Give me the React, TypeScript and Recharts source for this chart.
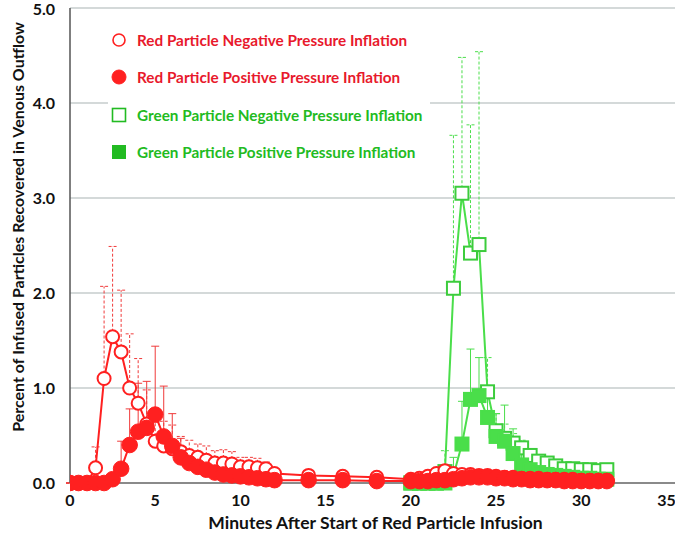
import React from "react";
import { LineChart, Line, XAxis, YAxis, CartesianGrid, ErrorBar } from "recharts";

const RED = "#ff2020";
const RED_ERR = "#f03a3a";
const RED_TEXT = "#e8192c";
const GREEN = "#4ade4a";
const GREEN_TEXT = "#22bb22";
const FONT = "Lato, 'Open Sans', sans-serif";

// minutes after start of red particle infusion
const redTimes = [
  0, 0.5, 1, 1.5, 2, 2.5, 3, 3.5, 4, 4.5, 5, 5.5, 6, 6.5, 7, 7.5, 8, 8.5, 9, 9.5, 10, 10.5, 11, 11.5, 12,
  14, 16, 18,
  20, 20.5, 21, 21.5, 22, 22.5, 23, 23.5, 24, 24.5, 25, 25.5, 26, 26.5, 27, 27.5, 28, 28.5, 29, 29.5, 30, 30.5, 31, 31.5,
];
const greenTimes = [
  20, 20.5, 21, 21.5, 22, 22.5, 23, 23.5, 24, 24.5, 25, 25.5, 26, 26.5, 27, 27.5, 28, 28.5, 29, 29.5, 30, 30.5, 31, 31.5,
];

const redNeg = [
  0, 0, 0, 0.16, 1.1, 1.54, 1.38, 1.0, 0.84, 0.62, 0.44, 0.39, 0.36, 0.33, 0.29, 0.27, 0.24, 0.21, 0.21, 0.2, 0.17, 0.17, 0.16, 0.15, 0.1,
  0.08, 0.07, 0.06,
  0.04, 0.05, 0.07, 0.1, 0.13, 0.1, 0.09, 0.09, 0.08, 0.08, 0.07, 0.06, 0.06, 0.05, 0.05, 0.05, 0.04, 0.04, 0.04, 0.04, 0.03, 0.03, 0.03, 0.03,
];
const redNegErr = [
  0, 0, 0, 0.22, 0.97, 0.95, 0.65, 0.57, 0.47, 0.36, 0.2, 0.26, 0.25, 0.16, 0.16, 0.14, 0.15, 0.13, 0.14, 0.13, 0.1, 0.1, 0.1, 0.07, 0.02,
  0, 0, 0,
  0, 0, 0, 0, 0, 0, 0, 0, 0, 0, 0, 0, 0, 0, 0, 0, 0, 0, 0, 0, 0, 0, 0, 0,
];
const redPos = [
  0, 0, 0, 0, 0, 0.04, 0.15, 0.4, 0.54, 0.58, 0.72, 0.49, 0.39, 0.27, 0.21, 0.17, 0.14, 0.11, 0.09, 0.08, 0.07, 0.06, 0.05, 0.04, 0.03,
  0.03, 0.03, 0.02,
  0.02, 0.02, 0.02, 0.03, 0.03, 0.04, 0.05, 0.06, 0.06, 0.06, 0.05, 0.05, 0.04, 0.04, 0.03, 0.03, 0.03, 0.03, 0.02, 0.02, 0.02, 0.02, 0.02, 0.02,
];
const redPosErr = [
  0, 0, 0, 0, 0, 0.02, 0.29, 0.38, 0.51, 0.49, 0.72, 0.53, 0.34, 0.2, 0.12, 0.08, 0.06, 0.05, 0.04, 0.03, 0.03, 0.02, 0.02, 0.02, 0.01,
  0, 0, 0,
  0, 0, 0, 0, 0, 0, 0, 0, 0, 0, 0, 0, 0, 0, 0, 0, 0, 0, 0, 0, 0, 0, 0, 0,
];

const greenNeg = [0, 0, 0, 0, 0.12, 2.05, 3.05, 2.42, 2.51, 0.96, 0.55, 0.47, 0.42, 0.37, 0.29, 0.23, 0.21, 0.18, 0.15, 0.15, 0.14, 0.14, 0.13, 0.14];
const greenNegErr = [0, 0, 0, 0, 0.22, 1.61, 1.43, 1.35, 2.03, 0.36, 0.18, 0.15, 0.1, 0.08, 0.07, 0.06, 0.04, 0.03, 0.02, 0.02, 0.01, 0.01, 0.01, 0.01];
const greenPos = [0, 0, 0, 0, 0, 0.08, 0.41, 0.88, 0.92, 0.69, 0.49, 0.44, 0.31, 0.19, 0.14, 0.11, 0.09, 0.08, 0.07, 0.06, 0.05, 0.05, 0.04, 0.04];
const greenPosErr = [0, 0, 0, 0, 0, 0.19, 0.45, 0.53, 0.4, 0.25, 0.24, 0.38, 0.26, 0.2, 0.15, 0.1, 0.05, 0.03, 0.02, 0.02, 0.01, 0.01, 0.01, 0.01];

const xTicks = [0, 5, 10, 15, 20, 25, 30, 35];
const yTicks = [0, 1, 2, 3, 4, 5];

const legendItems = [
  { label: "Red Particle Negative Pressure Inflation", shape: "circle", filled: false, color: RED, text: RED_TEXT },
  { label: "Red Particle Positive Pressure Inflation", shape: "circle", filled: true, color: RED, text: RED_TEXT },
  { label: "Green Particle Negative Pressure Inflation", shape: "square", filled: false, color: GREEN_TEXT, text: GREEN_TEXT },
  { label: "Green Particle Positive Pressure Inflation", shape: "square", filled: true, color: GREEN_TEXT, text: GREEN_TEXT },
];

const redData = redTimes.map((t, i) => ({
  t,
  neg: redNeg[i],
  negErr: [0, redNegErr[i]],
  pos: redPos[i],
  posErr: [0, redPosErr[i]],
}));

const greenData = greenTimes.map((t, i) => ({
  t,
  neg: greenNeg[i],
  negErr: [0, greenNegErr[i]],
  pos: greenPos[i],
  posErr: [0, greenPosErr[i]],
}));

const circleDot = (filled: boolean, name: string) => (p: any) => {
  if (p.cx == null || p.cy == null) return <g key={`${name}-${p.index}`} />;
  return (
    <circle
      key={`${name}-${p.index}`}
      cx={p.cx}
      cy={p.cy}
      r={filled ? 7.8 : 6.5}
      fill={filled ? RED : "#fff"}
      stroke={RED}
      strokeWidth={filled ? 1 : 2}
    />
  );
};

const squareDot = (filled: boolean, name: string) => (p: any) => {
  if (p.cx == null || p.cy == null) return <g key={`${name}-${p.index}`} />;
  const s = 13;
  return (
    <rect
      key={`${name}-${p.index}`}
      x={p.cx - s / 2}
      y={p.cy - s / 2}
      width={s}
      height={s}
      fill={filled ? GREEN : "#fff"}
      stroke={filled ? GREEN : "#3ccc3c"}
      strokeWidth={2}
    />
  );
};

const labelStyle = { fontFamily: FONT, fontWeight: 700, fontSize: 15, fill: "#111" };

function Legend() {
  return (
    <div
      style={{
        position: "absolute",
        left: 108,
        top: 22,
        width: 322,
        height: 130,
        background: "#fff",
        fontFamily: FONT,
        fontWeight: 700,
        fontSize: 15.3,
      }}
    >
      {legendItems.map((it, i) => (
        <div
          key={it.label}
          style={{ position: "absolute", left: 3, top: 9 + i * 37.3, display: "flex", alignItems: "center", color: it.text, whiteSpace: "nowrap" }}
        >
          <svg width={16} height={16} style={{ marginRight: 10 }}>
            {it.shape === "circle" ? (
              <circle cx={8} cy={8} r={it.filled ? 7 : 6} fill={it.filled ? it.color : "#fff"} stroke={it.color} strokeWidth={it.filled ? 1 : 1.6} />
            ) : (
              <rect x={1.5} y={1.5} width={13} height={13} fill={it.filled ? it.color : "#fff"} stroke={it.color} strokeWidth={it.filled ? 1 : 1.6} />
            )}
          </svg>
          <span>{it.label}</span>
        </div>
      ))}
    </div>
  );
}

export default function App() {
  return (
    <div style={{ position: "absolute", left: 0, top: 0, width: 675, height: 540, background: "#fff" }}>
      <LineChart width={675} height={540} margin={{ top: 8, right: 0, bottom: 0, left: 0 }}>
        <CartesianGrid vertical={false} stroke="#a9b3b3" strokeWidth={1.2} />
        <XAxis
          type="number"
          dataKey="t"
          domain={[0, 35.5]}
          ticks={xTicks}
          allowDataOverflow
          height={57}
          tickLine={false}
          tickMargin={6}
          axisLine={{ stroke: "#8a8a8a", strokeWidth: 2 }}
          tick={{ ...labelStyle, fontSize: 16 }}
          label={{
            content: (props: any) => (
              <text x={props.viewBox.x + props.viewBox.width / 2 + 3} y={529} textAnchor="middle" style={{ ...labelStyle, fontSize: 17.5 }}>
                Minutes After Start of Red Particle Infusion
              </text>
            ),
          }}
        />
        <YAxis
          type="number"
          domain={[0, 5]}
          ticks={yTicks}
          width={70}
          tickLine={false}
          tickMargin={9}
          axisLine={{ stroke: "#555", strokeWidth: 1.5 }}
          tickFormatter={(v: number) => v.toFixed(1)}
          tick={{ ...labelStyle, fontSize: 16 }}
          label={{
            content: () => (
              <text x={0} y={0} transform="translate(24, 227) rotate(-90)" textAnchor="middle" style={{ ...labelStyle, fontSize: 16 }}>
                Percent of Infused Particles Recovered in Venous Outflow
              </text>
            ),
          }}
        />
        <Line
          data={greenData}
          dataKey="neg"
          stroke={GREEN}
          strokeWidth={2}
          dot={squareDot(false, "gn")}
          activeDot={false}
          isAnimationActive={false}
        >
          <ErrorBar dataKey="negErr" direction="y" width={4} stroke={GREEN} strokeWidth={1} strokeDasharray="3 2" />
        </Line>
        <Line
          data={greenData}
          dataKey="pos"
          stroke={GREEN}
          strokeWidth={2}
          dot={squareDot(true, "gp")}
          activeDot={false}
          isAnimationActive={false}
        >
          <ErrorBar dataKey="posErr" direction="y" width={4} stroke={GREEN} strokeWidth={1} />
        </Line>
        <Line
          data={redData}
          dataKey="neg"
          stroke={RED}
          strokeWidth={2}
          dot={circleDot(false, "rn")}
          activeDot={false}
          isAnimationActive={false}
        >
          <ErrorBar dataKey="negErr" direction="y" width={4} stroke={RED_ERR} strokeWidth={1} strokeDasharray="3 2" />
        </Line>
        <Line
          data={redData}
          dataKey="pos"
          stroke={RED}
          strokeWidth={2}
          dot={circleDot(true, "rp")}
          activeDot={false}
          isAnimationActive={false}
        >
          <ErrorBar dataKey="posErr" direction="y" width={4} stroke={RED_ERR} strokeWidth={1} />
        </Line>
      </LineChart>
      <Legend />
    </div>
  );
}
